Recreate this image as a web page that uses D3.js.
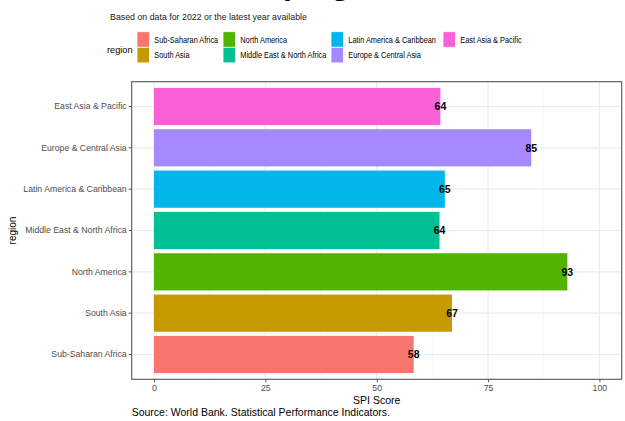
<!DOCTYPE html>
<html>
<head>
<meta charset="utf-8">
<script src="https://cdn.jsdelivr.net/npm/d3@7"></script>
<style>
  html, body { margin: 0; padding: 0; background: #ffffff; }
  svg { display: block; }
</style>
</head>
<body>
<div id="chart"></div>
<script>
// ---- data ----
const regions = ["East Asia & Pacific", "Europe & Central Asia", "Latin America & Caribbean",
                 "Middle East & North Africa", "North America", "South Asia", "Sub-Saharan Africa"];
const spiScores = [64.3, 84.7, 65.3, 64.1, 92.8, 66.9, 58.3];
const regionColors = ["#FB61D7", "#A58AFF", "#00B6EB", "#00C094", "#53B400", "#C49A00", "#F8766D"];
const legendOrder = ["Sub-Saharan Africa", "South Asia", "North America", "Middle East & North Africa",
                     "Latin America & Caribbean", "Europe & Central Asia", "East Asia & Pacific"];
const xTicks = [0, 25, 50, 75, 100];
const xMinorTicks = [12.5, 37.5, 62.5, 87.5];
const titleText = "SPI Overall Score by region";
const subtitleText = "Based on data for 2022 or the latest year available";
const captionText = "Source: World Bank. Statistical Performance Indicators.";
const xTitle = "SPI Score";
const yTitle = "region";
const legendTitle = "region";

const W = 625, H = 421;
const panel = { left: 131.7, right: 621.7, top: 81.7, bottom: 379.3 };
const font = "'Liberation Sans', Arial, sans-serif";

const svg = d3.select("#chart").append("svg").attr("width", W).attr("height", H)
  .style("font-family", font);

const x = d3.scaleLinear().domain([-5, 105]).range([panel.left, panel.right]);
const y = d3.scaleBand().domain(regions)
  .range([panel.top, panel.bottom]).paddingInner(0.1).paddingOuter(0.15);
const color = d3.scaleOrdinal().domain(regions).range(regionColors);

// title (cut off at top, only descenders visible)
svg.append("text").attr("x", 388).attr("y", -5).attr("text-anchor", "end")
  .style("font-family", "'Liberation Serif', 'Times New Roman', serif")
  .style("font-weight", "bold").style("font-size", "30px").attr("fill", "#000")
  .text(titleText);

// subtitle
svg.append("text").attr("transform", "translate(110,19.8) scale(0.9,1)")
  .style("font-size", "9.8px").attr("fill", "#1a1a1a").text(subtitleText);

// legend
svg.append("text").attr("x", 107).attr("y", 52.5)
  .style("font-size", "9.2px").attr("fill", "#000").text(legendTitle);
const legX = [137, 223, 331, 443];
const legY = [31.7, 47.3];
const keyW = 12.5, keyH = 15.6;
legendOrder.forEach((r, i) => {
  const col = Math.floor(i / 2), row = i % 2;
  const g = svg.append("g").attr("transform", `translate(${legX[col]},${legY[row]})`);
  g.append("rect").attr("width", keyW).attr("height", keyH).attr("fill", color(r))
    .attr("stroke", "#ffffff").attr("stroke-width", 0.8);
  g.append("text").attr("transform", `translate(${keyW + 4.8},${keyH / 2}) scale(0.82,1)`)
    .attr("dy", "0.35em")
    .style("font-size", "9px").attr("fill", "#000").text(r);
});

// panel grid
const grid = svg.append("g");
xMinorTicks.forEach(t => grid.append("line")
  .attr("x1", x(t)).attr("x2", x(t)).attr("y1", panel.top).attr("y2", panel.bottom)
  .attr("stroke", "#f2f2f2").attr("stroke-width", 0.6));
xTicks.forEach(t => grid.append("line")
  .attr("x1", x(t)).attr("x2", x(t)).attr("y1", panel.top).attr("y2", panel.bottom)
  .attr("stroke", "#ebebeb").attr("stroke-width", 1.1));
regions.forEach(r => grid.append("line")
  .attr("x1", panel.left).attr("x2", panel.right)
  .attr("y1", y(r) + y.bandwidth() / 2).attr("y2", y(r) + y.bandwidth() / 2)
  .attr("stroke", "#ebebeb").attr("stroke-width", 1.1));

// bars
svg.append("g").selectAll("rect").data(regions).join("rect")
  .attr("x", x(0)).attr("y", d => y(d))
  .attr("width", (d, i) => x(spiScores[i]) - x(0))
  .attr("height", y.bandwidth())
  .attr("fill", d => color(d));

// labels
svg.append("g").selectAll("text").data(regions).join("text")
  .attr("x", (d, i) => x(spiScores[i]))
  .attr("y", d => y(d) + y.bandwidth() / 2).attr("dy", "0.36em")
  .attr("text-anchor", "middle").style("font-size", "10.5px").style("font-weight", "bold")
  .attr("fill", "#000")
  .text((d, i) => d3.format(".0f")(spiScores[i]));

// panel border
svg.append("rect").attr("x", panel.left).attr("y", panel.top)
  .attr("width", panel.right - panel.left).attr("height", panel.bottom - panel.top)
  .attr("fill", "none").attr("stroke", "#555555").attr("stroke-width", 1.1);

// x axis
const xAxis = svg.append("g").attr("transform", `translate(0,${panel.bottom})`)
  .call(d3.axisBottom(x).tickValues(xTicks).tickSize(3).tickPadding(2).tickFormat(d3.format("d")));
xAxis.select(".domain").remove();
xAxis.selectAll(".tick line").attr("stroke", "#555555");
xAxis.selectAll(".tick text").attr("fill", "#4d4d4d").style("font-size", "8.8px")
  .style("font-family", font);

// y axis
const yAxis = svg.append("g").attr("transform", `translate(${panel.left},0)`)
  .call(d3.axisLeft(y).tickSize(3).tickPadding(2));
yAxis.select(".domain").remove();
yAxis.selectAll(".tick line").attr("stroke", "#555555");
yAxis.selectAll(".tick text").attr("fill", "#4d4d4d").style("font-size", "8.7px")
  .style("font-family", font);

// axis titles
svg.append("text").attr("x", (panel.left + panel.right) / 2).attr("y", 404)
  .attr("text-anchor", "middle").style("font-size", "10.5px").attr("fill", "#000").text(xTitle);
svg.append("text").attr("transform", `translate(16,${(panel.top + panel.bottom) / 2}) rotate(-90)`)
  .attr("text-anchor", "middle").style("font-size", "10px").attr("fill", "#000").text(yTitle);

// caption
svg.append("text").attr("x", 131.7).attr("y", 416)
  .style("font-size", "10.5px").attr("fill", "#000").text(captionText);
</script>
</body>
</html>
